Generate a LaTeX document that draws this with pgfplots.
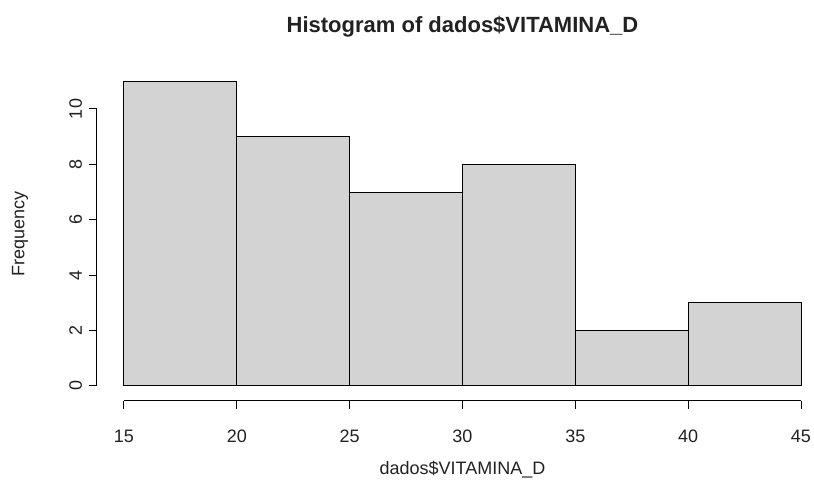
\documentclass[border=0pt]{standalone}
\usepackage{fontspec}
\setmainfont{Liberation Sans}
\usepackage{pgfplots}
\pgfplotsset{compat=1.18}
\definecolor{gray83}{HTML}{D3D3D3}
\definecolor{txt}{HTML}{222222}
\begin{document}
\begin{tikzpicture}
\begin{axis}[
  at={(0,0)}, anchor=south west,
  scale only axis, width=338.5pt, height=138.5pt,
  xmin=15, xmax=45, ymin=0, ymax=10,
  clip=false,
  axis lines=left,
  axis x line shift=7.5pt,
  axis y line shift=13.5pt,
  axis line style={-, line width=0.5pt},
  xtick={15,20,...,45}, ytick={0,2,...,10},
  tick align=outside, major tick length=4pt,
  tick style={black, line width=0.5pt},
  font=\fontsize{9}{10}\selectfont,
  /pgf/number format/assume math mode=true,
  ticklabel style={text=txt},
  xticklabel style={yshift=-7pt},
  yticklabel style={rotate=90, anchor=south},
]
\addplot[ybar interval, fill=gray83, draw=black, line width=0.5pt] coordinates {
  (15,11) (20,9) (25,7) (30,8) (35,2) (40,3) (45,3)
};
\node[font=\bfseries\fontsize{11}{13}\selectfont, text=txt] at (axis cs:30,12.96) {Histogram of dados\$VITAMINA\_D};
\node[text=txt] at (axis cs:30,-3.03) {dados\$VITAMINA\_D};
\node[text=txt, rotate=90] at (axis cs:10.39,5.5) {Frequency};
\end{axis}
\pgfresetboundingbox
\path[use as bounding box] (-62pt,-49.5pt) rectangle (345pt,193pt);
\end{tikzpicture}
\end{document}
